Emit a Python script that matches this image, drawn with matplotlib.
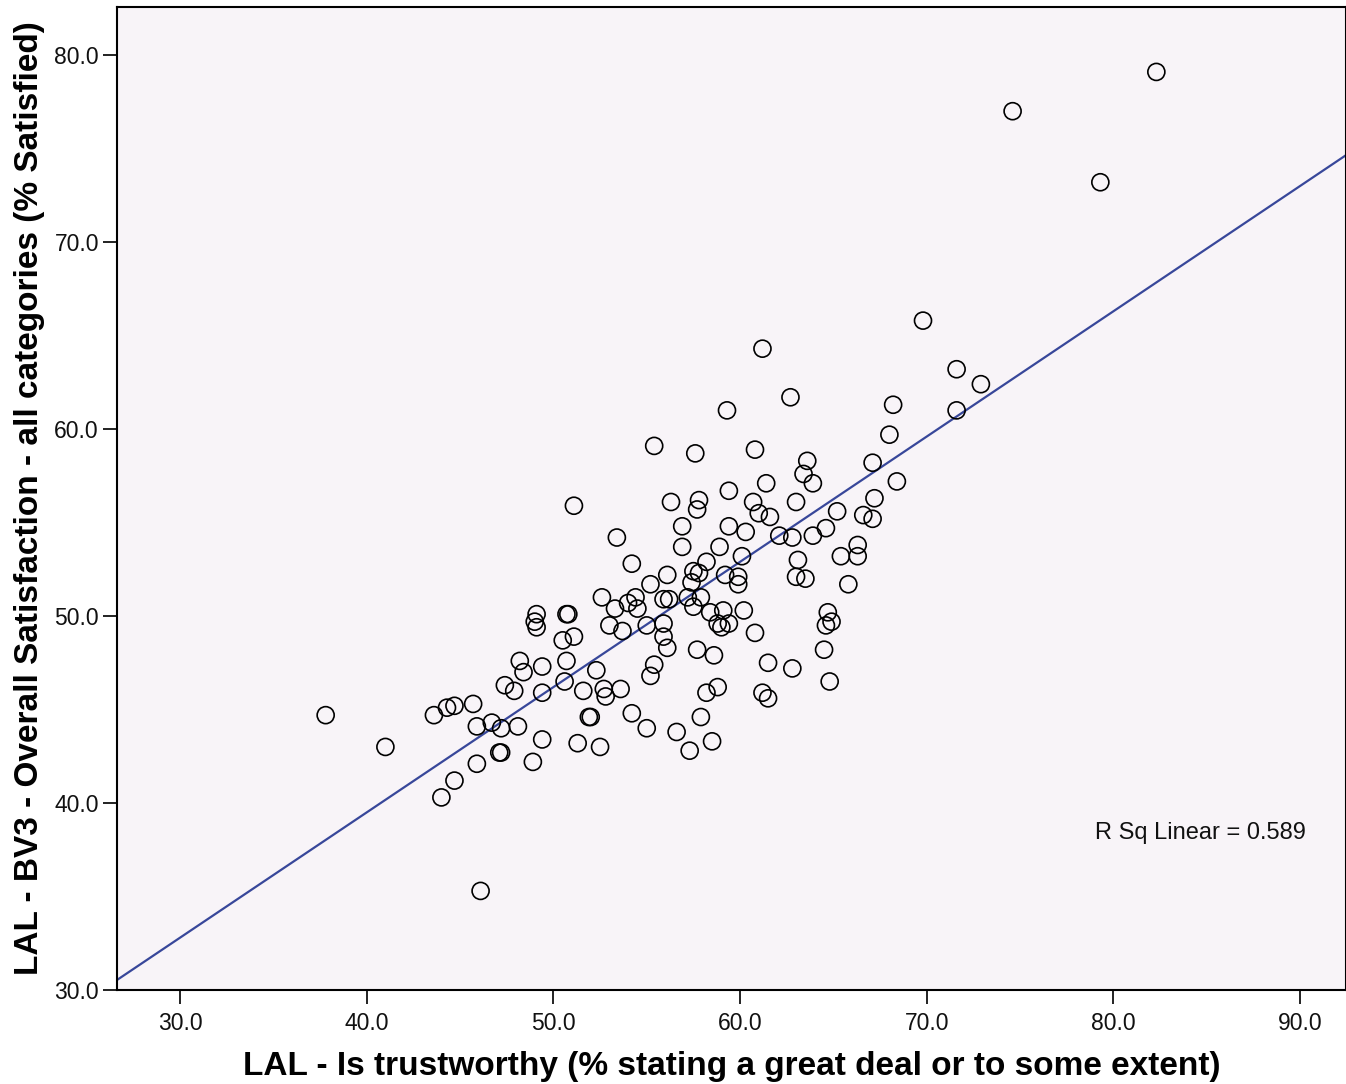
import numpy as np
import matplotlib
matplotlib.use("Agg")
import matplotlib.pyplot as plt

plt.rcParams['font.family'] = ['Liberation Sans', 'DejaVu Sans']

# Values
trust = [37.8, 41.0, 43.6, 44.3, 44.7, 45.7, 45.9, 46.7, 47.2, 48.1,
         47.4, 47.9, 48.2, 48.4, 49.4, 49.4, 49.1, 49.0, 49.1, 49.4,
         48.9, 47.1, 47.2, 45.9, 44.7, 44.0, 46.1, 55.2, 57.4, 52.6,
         53.3, 54.0, 54.4, 54.5, 55.9, 56.2, 57.2, 57.5, 57.9, 58.4,
         59.1, 58.8, 59.0, 59.4, 60.2, 60.8, 50.7, 50.8, 50.5, 51.1,
         53.0, 53.7, 55.0, 55.9, 55.9, 56.1, 57.7, 58.6, 61.5, 50.7,
         52.3, 55.4, 55.2, 50.6, 51.6, 52.7, 52.8, 53.6, 58.8, 58.2,
         61.2, 61.5, 51.9, 52.0, 54.2, 55.0, 57.9, 56.6, 51.3, 52.5,
         58.5, 57.3, 55.4, 57.6, 60.8, 51.1, 59.4, 61.4, 56.3, 57.8,
         57.7, 60.7, 61.0, 61.6, 56.9, 59.4, 60.3, 62.1, 53.4, 56.9,
         58.9, 54.2, 60.1, 58.2, 57.5, 57.8, 56.1, 59.2, 59.9, 59.9,
         68.0, 63.6, 63.4, 63.9, 67.1, 68.4, 63.0, 67.2, 65.2, 66.6,
         67.1, 62.8, 63.9, 64.6, 63.1, 63.0, 63.5, 66.3, 66.3, 65.4,
         65.8, 64.7, 64.9, 64.6, 64.5, 62.8, 64.8, 82.3, 74.6, 79.3,
         69.8, 61.2, 62.7, 59.3, 71.6, 72.9, 68.2, 71.6]
satisfaction = [44.7, 43.0, 44.7, 45.1, 45.2, 45.3, 44.1, 44.3, 44.0, 44.1,
                46.3, 46.0, 47.6, 47.0, 47.3, 45.9, 50.1, 49.7, 49.4, 43.4,
                42.2, 42.7, 42.7, 42.1, 41.2, 40.3, 35.3, 51.7, 51.8, 51.0,
                50.4, 50.7, 51.0, 50.4, 50.9, 50.9, 51.0, 50.5, 51.0, 50.2,
                50.3, 49.6, 49.4, 49.6, 50.3, 49.1, 50.1, 50.1, 48.7, 48.9,
                49.5, 49.2, 49.5, 49.6, 48.9, 48.3, 48.2, 47.9, 47.5, 47.6,
                47.1, 47.4, 46.8, 46.5, 46.0, 46.1, 45.7, 46.1, 46.2, 45.9,
                45.9, 45.6, 44.6, 44.6, 44.8, 44.0, 44.6, 43.8, 43.2, 43.0,
                43.3, 42.8, 59.1, 58.7, 58.9, 55.9, 56.7, 57.1, 56.1, 56.2,
                55.7, 56.1, 55.5, 55.3, 54.8, 54.8, 54.5, 54.3, 54.2, 53.7,
                53.7, 52.8, 53.2, 52.9, 52.4, 52.3, 52.2, 52.2, 52.1, 51.7,
                59.7, 58.3, 57.6, 57.1, 58.2, 57.2, 56.1, 56.3, 55.6, 55.4,
                55.2, 54.2, 54.3, 54.7, 53.0, 52.1, 52.0, 53.8, 53.2, 53.2,
                51.7, 50.2, 49.7, 49.5, 48.2, 47.2, 46.5, 79.1, 77.0, 73.2,
                65.8, 64.3, 61.7, 61.0, 63.2, 62.4, 61.3, 61.0]

# fit line as shown (R Sq Linear = 0.589)
fit_intercept = 12.7
fit_slope = 0.67
r_sq = 0.589

xmin, xmax = 26.62, 92.46
ymin, ymax = 30.0, 82.57

fig = plt.figure(figsize=(13.46, 10.84), dpi=100)
ax = fig.add_axes([0.0869, 0.0867, 0.9131, 0.9068])
ax.set_facecolor('#F8F4F8')

ax.scatter(trust, satisfaction, s=150, facecolors='none', edgecolors='black',
           linewidths=1.2, zorder=3)

line_x = np.array([xmin, xmax])
ax.plot(line_x, fit_intercept + fit_slope * line_x, color='#38479A', lw=1.6, zorder=2)

ax.text(79.0, 38.4, f'R Sq Linear = {r_sq:.3f}', fontsize=17, va='center', ha='left',
        color='#111111')

ax.set_xlim(xmin, xmax)
ax.set_ylim(ymin, ymax)
ax.set_xticks(np.arange(30, 91, 10))
ax.set_yticks(np.arange(30, 81, 10))
ax.set_xticklabels([f'{v:.1f}' for v in np.arange(30, 91, 10)])
ax.set_yticklabels([f'{v:.1f}' for v in np.arange(30, 81, 10)])
ax.tick_params(direction='out', length=10, width=1.3, labelsize=16.5,
               colors='#111111', pad=3)
ax.tick_params(axis='x', pad=6)

for sp in ax.spines.values():
    sp.set_linewidth(1.5)
    sp.set_color('black')

ax.set_xlabel('LAL - Is trustworthy (% stating a great deal or to some extent)',
              fontsize=24, fontweight='bold', labelpad=11)
ax.set_ylabel('LAL - BV3 - Overall Satisfaction - all categories (% Satisfied)',
              fontsize=24, fontweight='bold', labelpad=7)

fig.savefig('out.png', dpi=100, facecolor='white')
